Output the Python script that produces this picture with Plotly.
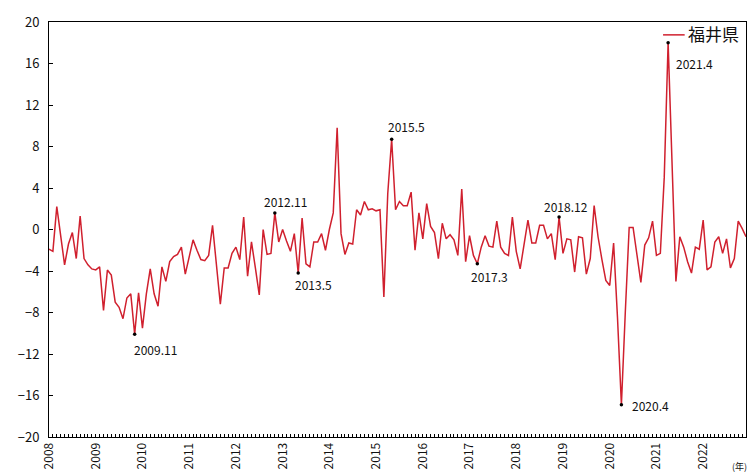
import plotly.graph_objects as go

# ---- data ----
years = [str(y) for y in range(2008, 2023)]
values = [
    -1.9, -2.1, 2.2, -0.8, -3.4, -1.4, -0.3, -2.8, 1.3, -2.8, -3.4, -3.8,      # 2008
    -3.9, -3.6, -7.8, -3.9, -4.4, -7.0, -7.5, -8.6, -6.6, -6.2, -10.1, -6.1,   # 2009
    -9.5, -6.2, -3.8, -6.2, -7.4, -3.6, -5.0, -3.1, -2.6, -2.4, -1.7, -4.3,    # 2010
    -2.6, -1.0, -2.0, -2.9, -3.0, -2.5, 0.4, -3.7, -7.2, -3.7, -3.7, -2.3,     # 2011
    -1.7, -2.9, 1.2, -4.5, -1.2, -3.7, -6.3, 0.0, -2.4, -2.3, 1.6, -1.2,       # 2012
    0.0, -1.1, -2.1, -0.4, -4.2, 1.1, -3.3, -3.6, -1.2, -1.2, -0.4, -2.0,      # 2013
    0.0, 1.6, 9.8, -0.4, -2.4, -1.3, -1.4, 1.9, 1.4, 2.7, 1.9, 2.0,            # 2014
    1.8, 1.9, -6.5, 3.5, 8.7, 1.9, 2.7, 2.3, 2.3, 3.6, -2.0, 1.6,              # 2015
    -0.9, 2.5, 0.3, -0.3, -2.8, 0.6, -0.9, -0.5, -1.0, -2.5, 3.9, -3.1,        # 2016
    -0.6, -2.5, -3.3, -1.7, -0.6, -1.6, -1.7, 0.8, -1.7, -2.3, -2.5, 1.2,      # 2017
    -2.1, -3.8, -1.2, 0.9, -1.3, -1.3, 0.4, 0.4, -0.9, -0.4, -2.9, 1.2,        # 2018
    -2.3, -0.9, -1.0, -4.1, -0.7, -0.8, -4.3, -2.8, 2.3, -0.7, -2.9, -4.9,     # 2019
    -5.4, -1.3, -8.5, -16.9, -8.0, 0.2, 0.2, -2.6, -5.1, -1.5, -0.8, 0.8,      # 2020
    -2.5, -2.3, 5.0, 18.0, 6.0, -5.0, -0.7, -1.7, -3.1, -4.2, -1.7, -1.9,      # 2021
    0.9, -3.9, -3.6, -1.2, -0.7, -2.3, -0.9, -3.7, -2.8, 0.8, 0.1, -0.7,       # 2022
]
highlight_labels = ["2009.11", "2012.11", "2013.5", "2015.5",
                    "2017.3", "2018.12", "2020.4", "2021.4"]
series_name = "福井県"
unit_label = "(年)"
y_ticks = list(range(-20, 21, 4))

# ---- derived ----
x_idx = list(range(len(values)))
def label_to_idx(lbl):
    y, m = lbl.split(".")
    return (int(y) - 2008) * 12 + int(m) - 1
hi_idx = [label_to_idx(l) for l in highlight_labels]
hi_val = [values[i] for i in hi_idx]

# label offsets in pixels (style)
offsets = {
    "2009.11": (21, -15), "2012.11": (11, 11), "2013.5": (15, -11),
    "2015.5": (15, 13), "2017.3": (12, -13), "2018.12": (7, 11),
    "2020.4": (29, -1), "2021.4": (26, -21),
}

FONT = "Noto Sans CJK JP"
RED = "#D0202E"
TXT = "#111"

fig = go.Figure()
fig.add_trace(go.Scatter(x=x_idx, y=values, mode="lines",
                         line=dict(color=RED, width=1.5),
                         name=series_name, showlegend=False, hoverinfo="skip"))
fig.add_trace(go.Scatter(x=hi_idx, y=hi_val, mode="markers",
                         marker=dict(color="black", size=3.5),
                         showlegend=False, hoverinfo="skip"))

for lbl, xi, yv in zip(highlight_labels, hi_idx, hi_val):
    dx, dy = offsets[lbl]
    fig.add_annotation(x=xi, y=yv, xref="x", yref="y", text=lbl,
                       showarrow=False, xshift=dx, yshift=dy,
                       font=dict(family=FONT, size=12, color=TXT))

# manual legend (inside plot box, top right)
fig.add_shape(type="line", xref="paper", yref="paper",
              x0=0.881, x1=0.912, y0=0.969, y1=0.969,
              line=dict(color=RED, width=1.5))
fig.add_annotation(xref="paper", yref="paper", x=0.914, y=0.972,
                   xanchor="left", yanchor="middle", text=series_name,
                   showarrow=False, font=dict(family=FONT, size=17, color=TXT))
# unit label
fig.add_annotation(xref="paper", yref="paper", x=0.99, y=-0.07,
                   xanchor="center", yanchor="middle", text=unit_label,
                   showarrow=False, font=dict(family=FONT, size=9, color=TXT))

fig.update_xaxes(range=[0, len(values) - 1],
                 tickmode="array", tickvals=[i * 12 for i in range(len(years))],
                 ticktext=years, tickangle=-90,
                 ticks="inside", ticklen=3, tickcolor="black",
                 minor=dict(ticks="inside", ticklen=3, dtick=1, tickcolor="black", tick0=0),
                 showline=True, linecolor="black", linewidth=1, mirror=True,
                 showgrid=False, zeroline=False,
                 tickfont=dict(family=FONT, size=12, color=TXT))
fig.update_yaxes(range=[-20, 20], tickmode="array", tickvals=y_ticks,
                 ticks="inside", ticklen=4, tickcolor="black",
                 ticklabelstandoff=6,
                 showline=True, linecolor="black", linewidth=1, mirror=True,
                 showgrid=False, zeroline=False,
                 tickfont=dict(family=FONT, size=13, color=TXT))

fig.update_layout(width=749, height=475,
                  margin=dict(l=49, r=3, t=22, b=38),
                  plot_bgcolor="white", paper_bgcolor="white",
                  showlegend=False)

# remove the default 8px page margin so the chart fills the window exactly
fig.write_html("out.html",
               config={"displayModeBar": False},
               post_script="document.body.style.margin='0px';"
                           "document.body.style.overflow='hidden';")
